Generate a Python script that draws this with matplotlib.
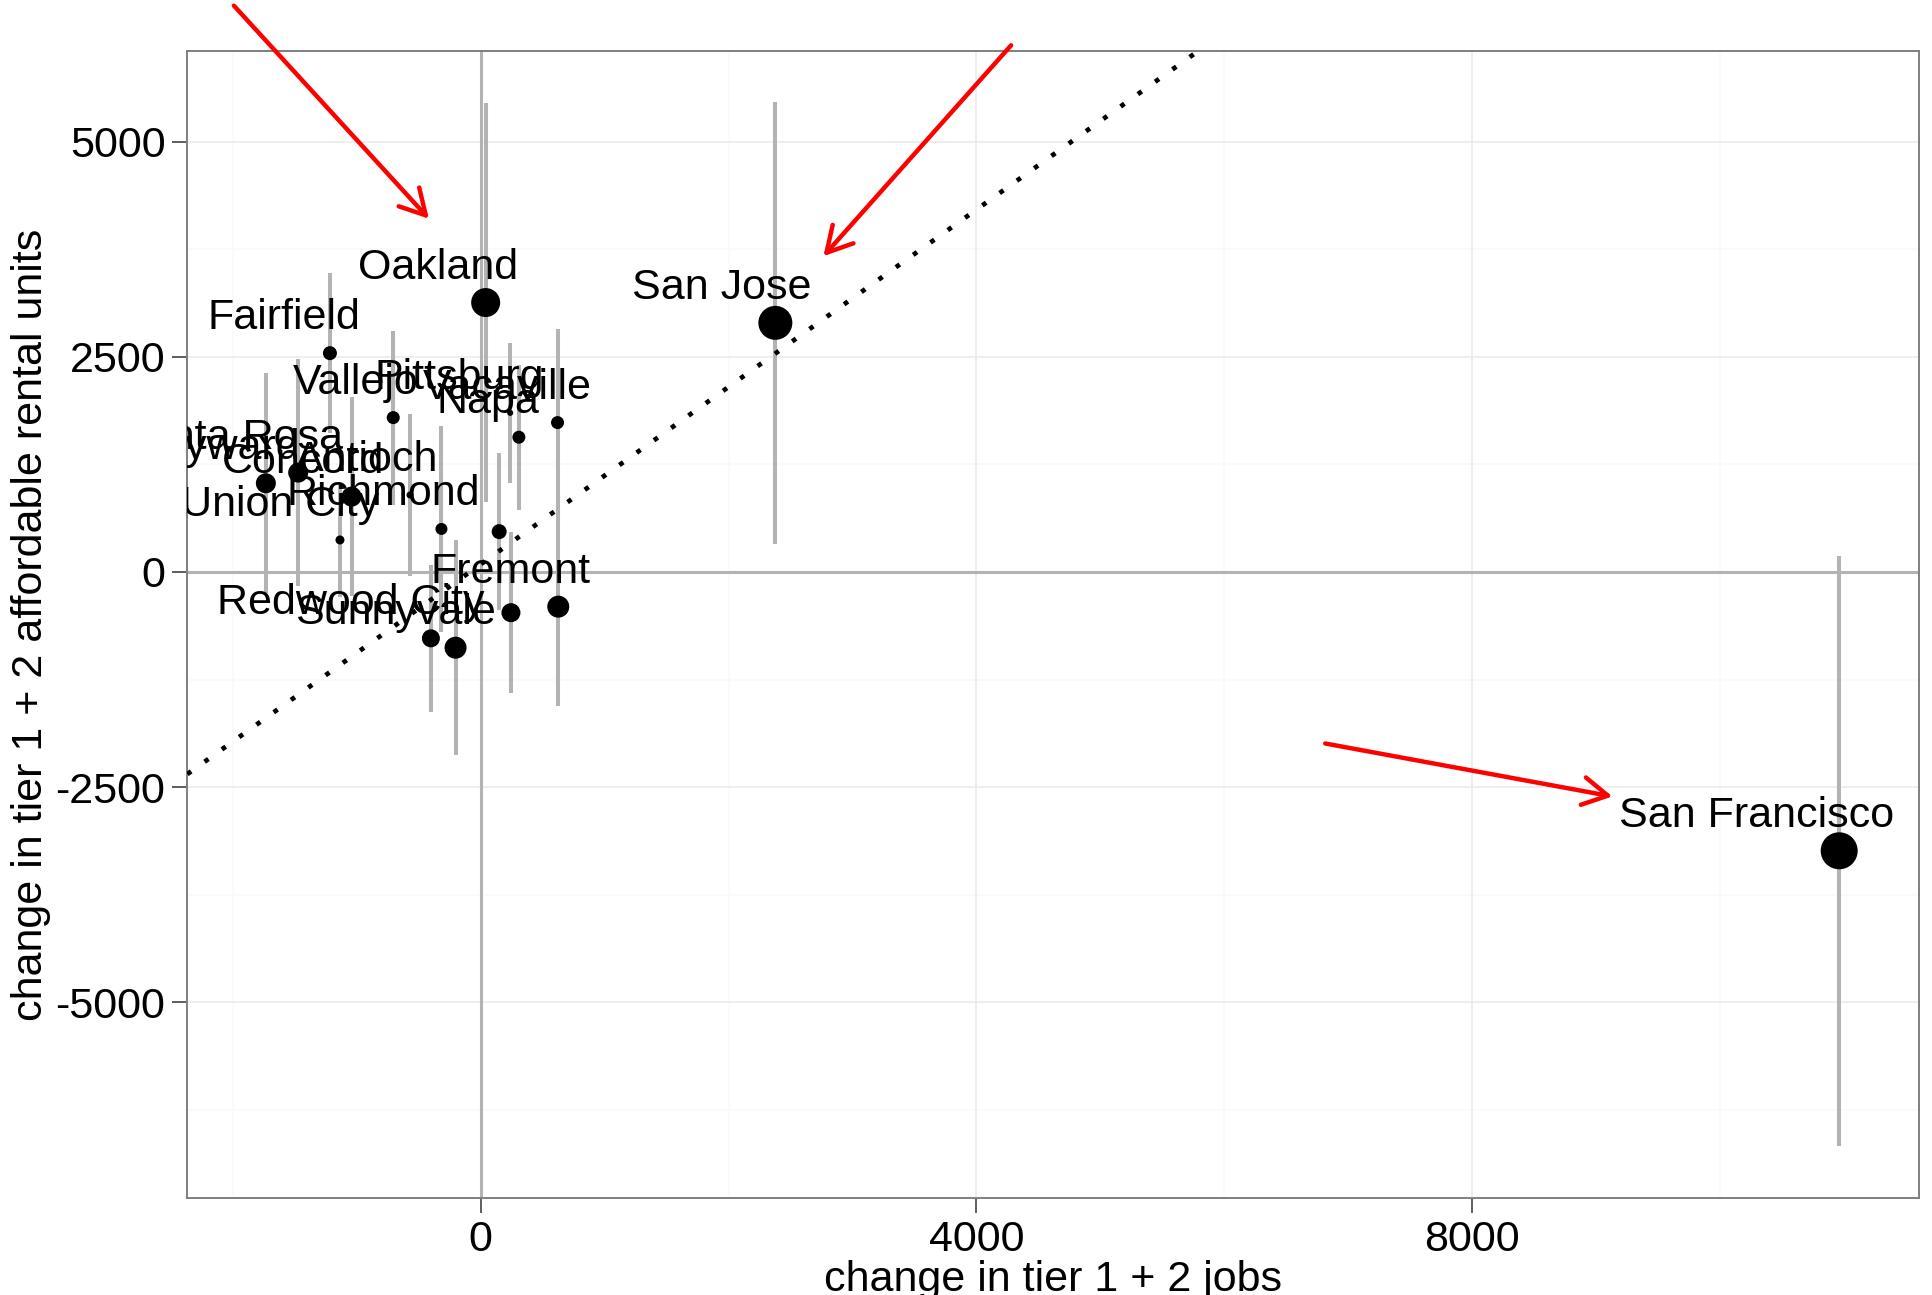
import matplotlib
matplotlib.use("Agg")
import matplotlib.pyplot as plt
import numpy as np

plt.rcParams['font.family'] = ['Liberation Sans', 'DejaVu Sans']

# cities (two points carry no label in the original)
cities = ["San Francisco", "San Jose", "Oakland", "Fairfield", "Vallejo",
          "Pittsburg", "Vacaville", "Napa", "Santa Rosa", "Hayward",
          "Concord", "Antioch", "Richmond", "Union City", "",
          "Redwood City", "Sunnyvale", "", "Fremont"]
jobs_change = [10964, 2378, 40, -1217, -706,
               238, 620, 308, -1473, -1734,
               -1042, -571, -317, -1136, 149,
               -402, -203, 244, 626]
units_change = [-3240, 2895, 3131, 2543, 1794,
                1849, 1736, 1566, 1155, 1031,
                876, 895, 500, 372, 469,
                -771, -880, -473, -403]
units_err = [3426, 2572, 2323, 930, 1012,
             814, 1090, 843, 1318, 1279,
             1156, 942, 1198, 659, 912,
             853, 1248, 937, 1155]
point_size = [37, 34, 29, 14, 13,
              6, 13, 13, 20, 20,
              20, 7, 12, 9, 15,
              18, 22, 19, 22]

# dotted reference line
line_slope = 1.03
line_intercept = 90

# red arrows: (x_start, y_start, x_end, y_end)
arrows = [(-1992, 6581, -418, 4105),
          (4281, 6121, 2766, 3670),
          (6816, -1993, 9134, -2609)]

x_major = [0, 4000, 8000]
x_minor = [-2000, 2000, 6000, 10000]
y_major = [-5000, -2500, 0, 2500, 5000]
y_minor = [-6250, -3750, -1250, 1250, 3750]

fig = plt.figure(figsize=(19.33, 12.95), dpi=100)
ax = fig.add_axes([0.0969, 0.0747, 0.8961, 0.8863])
ax.set_xlim(-2368, 11612)
ax.set_ylim(-7278, 6060)

# grid
for v in x_minor:
    ax.axvline(v, color='#FAFAFA', lw=1.2, zorder=0)
for v in y_minor:
    ax.axhline(v, color='#FAFAFA', lw=1.2, zorder=0)
for v in x_major:
    ax.axvline(v, color='#EBEBEB', lw=1.2, zorder=0.5)
for v in y_major:
    ax.axhline(v, color='#EBEBEB', lw=1.2, zorder=0.5)

ax.axvline(0, color='#B3B3B3', lw=2.2, zorder=1)
ax.axhline(0, color='#B3B3B3', lw=2.2, zorder=1)

x = np.array(jobs_change)
y = np.array(units_change)
e = np.array(units_err)
ax.vlines(x, y - e, y + e, color='#B3B3B3', lw=2.9, zorder=2)

ax.axline((0, line_intercept), slope=line_slope, color='black', lw=3.4,
          linestyle=(0, (1, 3.5)), zorder=3)

ax.scatter(x, y, s=(np.array(point_size) * 0.72) ** 2, color='black',
           edgecolors='none', zorder=4)

# labels: right part sits at 20% of the text width past the point
anns = []
for name, xi, yi in zip(cities, jobs_change, units_change):
    if not name:
        continue
    a = ax.annotate(name, (xi, yi), xytext=(0, 24), textcoords='offset pixels',
                    ha='right', va='baseline', fontsize=31, color='black',
                    clip_on=True, zorder=5)
    anns.append(a)
fig.canvas.draw()
for a in anns:
    w = a.get_window_extent().width
    a.xyann = (0.2 * w, 24)

for x0, y0, x1, y1 in arrows:
    ax.annotate('', xy=(x1, y1), xytext=(x0, y0),
                arrowprops=dict(arrowstyle='->,head_length=0.9,head_width=0.5',
                                color='red', lw=3.2, mutation_scale=20,
                                shrinkA=0, shrinkB=0),
                annotation_clip=False, zorder=6)

ax.set_xticks(x_major)
ax.set_xticklabels([str(v) for v in x_major])
ax.set_yticks(y_major)
ax.set_yticklabels([str(v) for v in y_major])
ax.tick_params(axis='both', length=10.8, width=1.1, color='#333333',
               labelsize=31, labelcolor='black', pad=5)

for sp in ax.spines.values():
    sp.set_color('#7F7F7F')
    sp.set_linewidth(1.4)

ax.set_xlabel("change in tier 1 + 2 jobs", fontsize=31)
ax.xaxis.set_label_coords(0.5, -0.0538)
ax.xaxis.label.set_verticalalignment('top')
ax.set_ylabel("change in tier 1 + 2 affordable rental units", fontsize=31)
ax.yaxis.set_label_coords(-0.0903, 0.5)
ax.yaxis.label.set_verticalalignment('center')

fig.savefig("out.png", dpi=100)
